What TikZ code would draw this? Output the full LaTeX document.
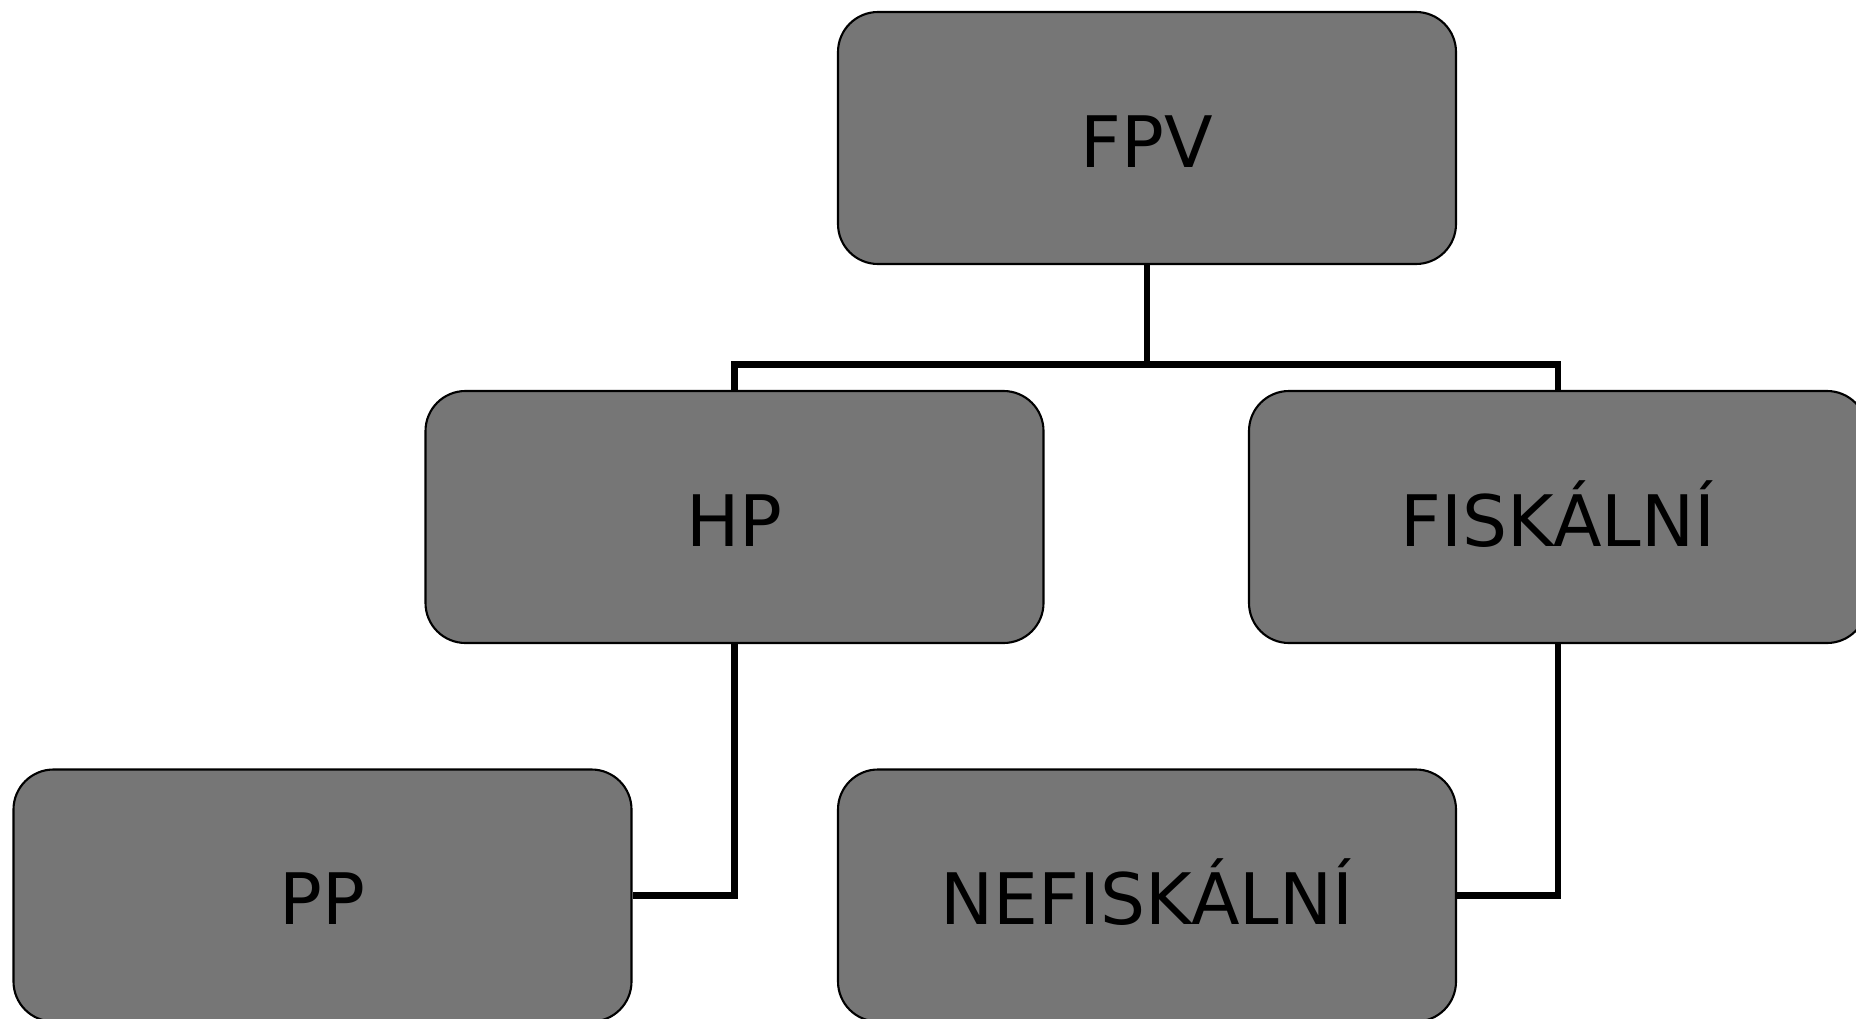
\documentclass[tikz,border=0pt]{standalone}
\usepackage{fontspec}
\setmainfont{DejaVu Sans}
\usetikzlibrary{positioning}
\definecolor{boxgray}{RGB}{118,118,118}

\begin{document}
\begin{tikzpicture}[
    box/.style={draw=black,line width=0.6pt,fill=boxgray,rounded corners=0.4cm,
        minimum width=6.18cm,minimum height=2.52cm,
        text height=0.7cm,text depth=0.12cm,
        font=\fontsize{20.2}{24}\selectfont},
    conn/.style={line width=1.8pt}]
    \useasboundingbox (0,0) rectangle (18.56,-10.19);
    \node[box] (fpv) at (11.47,-1.38) {FPV};
    \node[box] (hp) at (7.345,-5.17) {HP};
    \node[box] (fisk) at (15.58,-5.17) {FISKÁLNÍ};
    \node[box] (pp) at (3.225,-8.955) {PP};
    \node[box] (nefisk) at (11.47,-8.955) {NEFISKÁLNÍ};
    \coordinate (split) at (11.47,-3.645);
    \draw[conn] (fpv.south) -- (split) -| (hp.north);
    \draw[conn] (split) -| (fisk.north);
    \draw[conn] (hp.south) |- (pp.east);
    \draw[conn] (fisk.south) |- (nefisk.east);
\end{tikzpicture}
\end{document}
